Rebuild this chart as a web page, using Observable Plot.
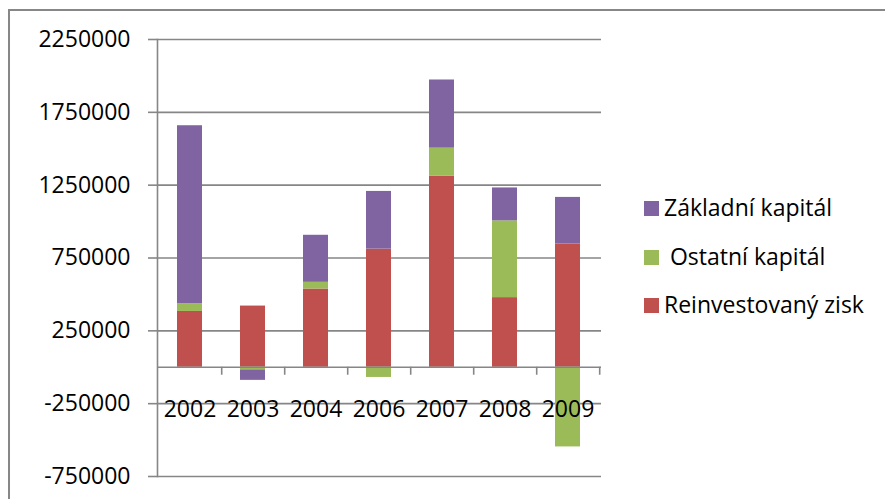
<!DOCTYPE html>
<html><head><meta charset="utf-8">
<script src="https://cdn.jsdelivr.net/npm/d3@7"></script>
<script src="https://cdn.jsdelivr.net/npm/@observablehq/plot@0.6"></script>
<style>
body{margin:0;background:#fff;}
#wrap{position:relative;width:885px;height:499px;overflow:hidden;font-family:"Open Sans",sans-serif;}
#border{position:absolute;left:8px;top:9px;width:900px;height:520px;border:2px solid #878787;box-sizing:border-box;pointer-events:none;}
.item{position:absolute;left:644px;font-size:23px;line-height:23px;white-space:pre;color:#000;}
.sw{display:inline-block;width:15px;height:15px;vertical-align:baseline;margin-right:5px;}
</style></head>
<body><div id="wrap"><div id="border"></div></div>
<script>
const years = ["2002","2003","2004","2006","2007","2008","2009"];
const seriesNames = ["Reinvestovaný zisk","Ostatní kapitál","Základní kapitál"];
const legendLabels = ["Reinvestovaný zisk"," Ostatní kapitál","Základní kapitál"];
const reinvest = [383000, 420000, 537000, 811000, 1311000, 478000, 846000];
const ostatni = [53000, -18000, 46000, -70000, 193000, 527000, -547000];
const zakladni = [1222000, -72000, 323000, 396000, 468000, 226000, 320000];
const colors = ["#C0504D","#9BBB59","#8064A2"];
const yTicks = [-750000,-250000,250000,750000,1250000,1750000,2250000];

const seriesValues = [reinvest, ostatni, zakladni];
const data = years.flatMap((yr, i) => seriesNames.map((s, k) => ({year: yr, series: s, value: seriesValues[k][i]})));

const grey = "#868686";
const chart = Plot.plot({
  width: 885, height: 499,
  marginLeft: 157, marginRight: 284, marginTop: 39, marginBottom: 23,
  style: {fontFamily: "'Open Sans', sans-serif", fontSize: "23px", background: "transparent", color: "#000", overflow: "visible"},
  x: {domain: years, paddingInner: 0.6, paddingOuter: 0.3, axis: null},
  y: {domain: [-750000, 2250000], axis: null},
  color: {domain: seriesNames, range: colors},
  marks: [
    Plot.gridY(yTicks, {stroke: grey, strokeOpacity: 1, strokeWidth: 1.6}),
    Plot.axisY(yTicks, {tickSize: 9, tickPadding: 18, tickFormat: d => String(d), stroke: grey, strokeWidth: 1.6, fill: "#000", fontSize: 23, label: null}),
    Plot.barY(data, {x: "year", y: "value", fill: "series", order: seriesNames}),
    Plot.frame({anchor: "left", stroke: grey, strokeWidth: 1.6}),
    Plot.ruleY([0], {stroke: grey, strokeWidth: 1.6}),
    Plot.ruleX(years, {x: d => d, dx: 31.7, y1: () => 0, y2: () => 0, insetBottom: -8, stroke: grey, strokeWidth: 1.6}),
    Plot.text(years, {x: d => d, y: () => 0, dy: 42, text: d => d, fontSize: 23, fill: "#000"})
  ]
});
const wrap = document.getElementById("wrap");
wrap.insertBefore(chart, wrap.firstChild);

// legend (top to bottom: reverse of stacking order)
const order = [2, 1, 0];
order.forEach((k, j) => {
  const it = document.createElement("div");
  it.className = "item";
  it.style.top = (196.3 + j * 48.3) + "px";
  const sw = document.createElement("span");
  sw.className = "sw";
  sw.style.background = colors[k];
  it.appendChild(sw);
  it.appendChild(document.createTextNode(legendLabels[k]));
  wrap.appendChild(it);
});
</script>
</body></html>
